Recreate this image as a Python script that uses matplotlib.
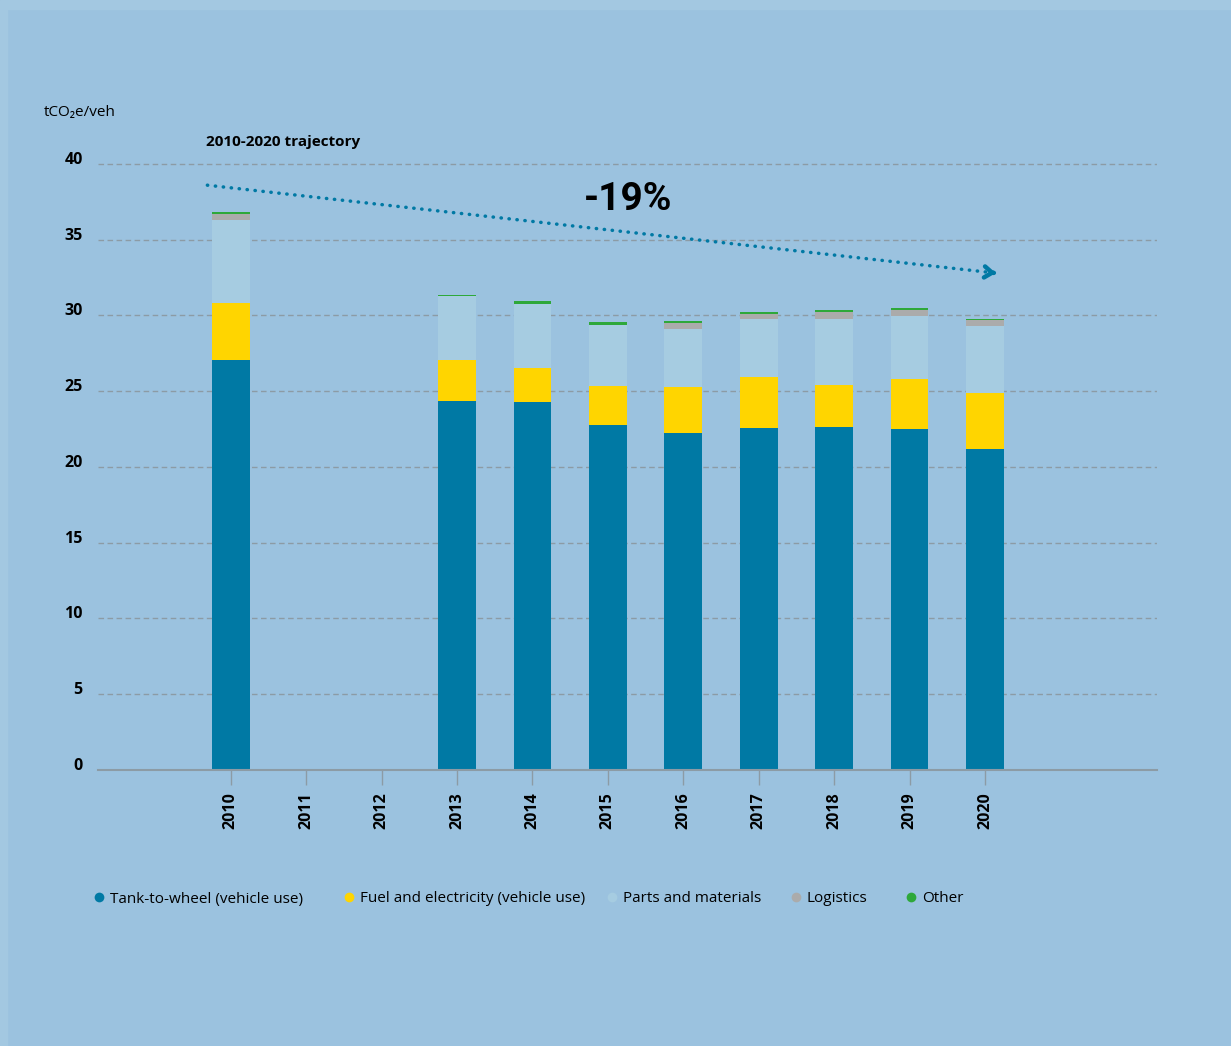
import numpy as np
import matplotlib.pyplot as plt
from matplotlib.lines import Line2D
from matplotlib.patches import Rectangle

# Data (tCO2e per vehicle)
years = [2010, 2011, 2012, 2013, 2014, 2015, 2016, 2017, 2018, 2019, 2020]
tank_to_wheel = [27.06, 0, 0, 24.36, 24.29, 22.77, 22.24, 22.57, 22.64, 22.51, 21.19]
fuel_elec = [3.77, 0, 0, 2.70, 2.24, 2.58, 3.02, 3.35, 2.75, 3.28, 3.67]
parts = [5.47, 0, 0, 4.23, 4.23, 4.02, 3.85, 3.85, 4.38, 4.18, 4.45]
logistics = [0.40, 0, 0, 0, 0, 0, 0.39, 0.33, 0.43, 0.39, 0.39]
other = [0.13, 0, 0, 0.06, 0.20, 0.20, 0.14, 0.13, 0.13, 0.14, 0.07]

series = [
    ('Tank-to-wheel (vehicle use)', tank_to_wheel, '#0079A4'),
    ('Fuel and electricity (vehicle use)', fuel_elec, '#FFD500'),
    ('Parts and materials', parts, '#A6CCE1'),
    ('Logistics', logistics, '#ABABAB'),
    ('Other', other, '#2EA83A'),
]

# trajectory line endpoints (year, value)
traj_x = [2009.69, 2020.05]
traj_y = [38.6, 32.85]

bg = '#9BC2DF'
plt.rcParams['font.family'] = ['Open Sans', 'DejaVu Sans']

fig = plt.figure(figsize=(12.31, 10.46), dpi=100, facecolor=bg)
# lighter frame strips at top and left
fig.patches.append(Rectangle((0, 1 - 9 / 1046), 1, 9 / 1046, transform=fig.transFigure,
                             color='#A3C8E1', zorder=0))
fig.patches.append(Rectangle((0, 0), 7 / 1231, 1, transform=fig.transFigure,
                             color='#A3C8E1', zorder=0))

ax = fig.add_axes([98 / 1231, 1 - 770 / 1046, (1157 - 98) / 1231, (770 - 156.4) / 1046])
ax.set_facecolor('none')

x = np.array(years)
bottom = np.zeros(len(years))
for name, vals, col in series:
    vals = np.array(vals)
    ax.bar(x, vals, width=0.5, bottom=bottom, color=col, zorder=3)
    bottom += vals

ax.set_xlim(2008.24, 2022.28)
ax.set_ylim(0, 40.5)
ax.set_yticks(range(0, 41, 5))
ax.yaxis.grid(True, color='#8C9BA5', linestyle=(0, (4, 2.5)), linewidth=1, zorder=1)
ax.set_axisbelow(True)
for s in ['top', 'right', 'left']:
    ax.spines[s].set_visible(False)
ax.spines['bottom'].set_color('#8C9BA5')
ax.spines['bottom'].set_linewidth(1.5)
ax.spines['bottom'].set_zorder(4)

ax.set_xticks(years)
ax.set_xticklabels([str(y) for y in years], rotation=90, fontweight='bold', fontsize=11.5)
ax.tick_params(axis='x', length=11, width=1, color='#8C9BA5', pad=5)
ax.tick_params(axis='y', length=0, pad=11, labelsize=11.5)
for lab in ax.get_yticklabels():
    lab.set_fontweight('bold')
    lab.set_verticalalignment('baseline')

# trajectory
ax.plot(traj_x, traj_y, color='#0079A4', linewidth=2.5, linestyle=(0, (0.1, 2.2)),
        dash_capstyle='round', zorder=5)
ax.annotate('', xy=(2020.18, 32.78), xytext=(2020.08, 32.83),
            arrowprops=dict(arrowstyle='->,head_length=0.55,head_width=0.4',
                            color='#0079A4', lw=3.2), zorder=5)
ax.text(2015.27, 37.65, '-19%', ha='center', va='center', fontsize=28, fontweight='bold',
        family=['Roboto', 'DejaVu Sans'], zorder=6)
ax.text(2009.67, 41.45, '2010-2020 trajectory', ha='left', va='center', fontsize=11,
        fontweight='bold', clip_on=False)

fig.text(44 / 1231, 1 - 112 / 1046, 'tCO₂e/veh', ha='left', va='center', fontsize=11)

# legend entries placed along one row
legend_x = [99, 349, 612, 796, 911]
ly = 1 - 897 / 1046
for (name, _, col), lx in zip(series, legend_x):
    fig.add_artist(Line2D([lx / 1231], [ly], marker='o', markersize=7, color=col,
                          markeredgewidth=0, linestyle='', transform=fig.transFigure))
    fig.text((lx + 11) / 1231, ly, name, ha='left', va='center_baseline', fontsize=11)

fig.savefig('out.png', dpi=100, facecolor=bg)
